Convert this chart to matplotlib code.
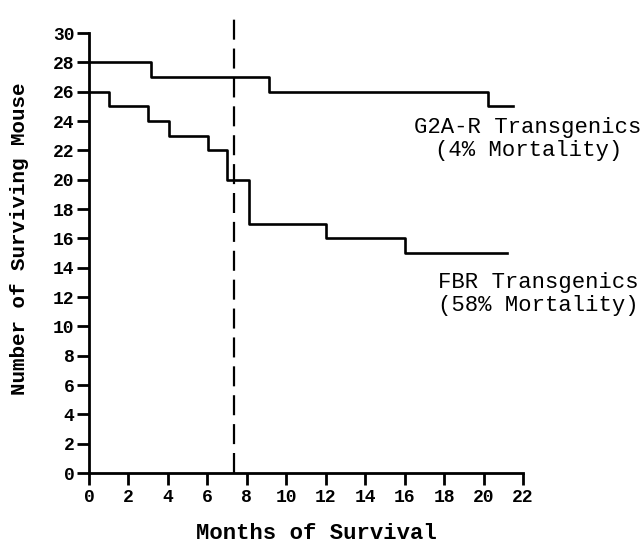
import matplotlib
matplotlib.use("Agg")
import matplotlib.pyplot as plt

# survival curves (months, surviving mice)
g2a_months = [0, 3.15, 9.1, 20.2, 21.5]
g2a_alive = [28, 27, 26, 25, 25]

fbr_months = [0, 1.0, 3.0, 4.05, 6.05, 7.0, 8.1, 12.0, 16.0, 21.2]
fbr_alive = [26, 25, 24, 23, 22, 20, 17, 16, 15, 15]

cutoff_month = 7.35

x_ticks = list(range(0, 23, 2))
y_ticks = list(range(0, 31, 2))

mono = "Liberation Mono"

fig = plt.figure(figsize=(6.43, 5.45), dpi=100)
ax = fig.add_axes([0.1384, 0.132, 0.675, 0.8497])

ax.step(g2a_months, g2a_alive, where="post", color="black", lw=1.9)
ax.step(fbr_months, fbr_alive, where="post", color="black", lw=1.9)
ax.axvline(cutoff_month, ymax=0.985, color="black", lw=1.6, dashes=(9, 4))

ax.set_xlim(0, 22)
ax.set_ylim(0, 31.57)
for side in ("top", "right"):
    ax.spines[side].set_visible(False)
ax.spines["left"].set_bounds(0, 30)
ax.spines["bottom"].set_bounds(0, 22)
for side in ("left", "bottom"):
    ax.spines[side].set_linewidth(2)

ax.set_xticks(x_ticks)
ax.set_yticks(y_ticks)
ax.set_xticklabels([str(t) for t in x_ticks], fontfamily=mono, fontweight="bold", fontsize=13)
ax.set_yticklabels([str(t) for t in y_ticks], fontfamily=mono, fontweight="bold", fontsize=13)
ax.tick_params(direction="out", length=8.5, width=2)
ax.tick_params(axis="x", pad=3)
ax.tick_params(axis="y", pad=2)

ax.set_xlabel("Months of Survival", fontfamily=mono, fontweight="bold", fontsize=16)
ax.xaxis.set_label_coords(0.525, -0.108)
ax.set_ylabel("Number of Surviving Mouse", fontfamily=mono, fontweight="bold", fontsize=15)
ax.yaxis.set_label_coords(-0.138, 0.505)

ax.text(22.26, 22.8, "G2A-R Transgenics\n(4% Mortality)", fontfamily=mono, fontsize=16,
        ha="center", va="center", linespacing=1.12, clip_on=False)
ax.text(22.75, 12.2, "FBR Transgenics\n(58% Mortality)", fontfamily=mono, fontsize=16,
        ha="center", va="center", linespacing=1.12, clip_on=False)

fig.savefig("out.png", dpi=100)
